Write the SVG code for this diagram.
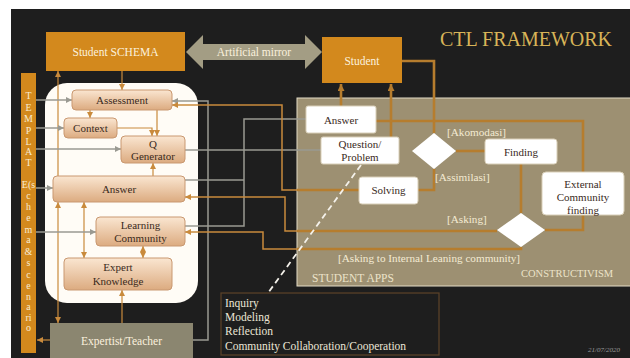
<svg xmlns="http://www.w3.org/2000/svg" width="630" height="358" viewBox="0 0 630 358">
  <defs>
    <linearGradient id="nodeFill" x1="0" y1="0" x2="0" y2="1">
      <stop offset="0" stop-color="#fae6d1"/>
      <stop offset="1" stop-color="#dcab80"/>
    </linearGradient>
    <marker id="arrO" viewBox="0 0 6 6" refX="6" refY="3" markerWidth="6" markerHeight="6" markerUnits="userSpaceOnUse" orient="auto-start-reverse">
      <path d="M0,0 L6,3 L0,6 z" fill="#c98a3c"/>
    </marker>
    <marker id="arrG" viewBox="0 0 6 6" refX="6" refY="3" markerWidth="6" markerHeight="6" markerUnits="userSpaceOnUse" orient="auto-start-reverse">
      <path d="M0,0 L6,3 L0,6 z" fill="#9a9a92"/>
    </marker>
    <marker id="arrB" viewBox="0 0 6 6" refX="6" refY="3" markerWidth="7" markerHeight="7" markerUnits="userSpaceOnUse" orient="auto-start-reverse">
      <path d="M0,0 L6,3 L0,6 z" fill="#b67d2e"/>
    </marker>
  </defs>
  <style>
    text { font-family: "Liberation Serif", "Times New Roman", serif; }
    .orange { fill: #d3891d; }
    .node { fill: url(#nodeFill); stroke: #c99870; stroke-width: 1; }
    .wbox { fill: #ffffff; stroke: #d9cfb8; stroke-width: 1; }
    .dia { fill: #ffffff; }
    .lt { fill: #fbf1de; font-size: 11.5px; text-anchor: middle; }
    .dk { fill: #3a2a1c; font-size: 11px; text-anchor: middle; }
    .lbl { fill: #f4ebd2; font-size: 11.2px; }
    .tpl { fill: #f7e9cf; font-size: 10px; text-anchor: middle; }
    .ci { fill: none; stroke: #c98a3c; stroke-width: 1.2; }
    .co { fill: none; stroke: #c98a3c; stroke-width: 1.5; }
    .cg { fill: none; stroke: #9a9a92; stroke-width: 1.5; }
    .cb { fill: none; stroke: #b67d2e; stroke-width: 2.6; }
  </style>

  <!-- page -->
  <rect x="0" y="0" width="630" height="358" fill="#ffffff"/>
  <rect x="11" y="9" width="619" height="349" fill="#1e1e1e"/>

  <!-- panels -->
  <rect x="45" y="83" width="153" height="220" rx="22" fill="#fffcf6"/>
  <rect x="297" y="98" width="340" height="188" fill="#9d9072" stroke="#e4dcc6" stroke-width="1"/>
  <rect x="221" y="293" width="218" height="62" fill="none" stroke="#5e4329" stroke-width="1.2"/>

  <!-- connectors -->
  <g id="connectors">
    <!-- inside the knowledge panel -->
    <path class="ci" d="M122,71 V90" marker-end="url(#arrO)"/>
    <path class="ci" d="M58,176 V71" marker-end="url(#arrO)"/>
    <path class="ci" d="M58,202 V323" marker-start="url(#arrO)" marker-end="url(#arrO)"/>
    <path class="ci" d="M90,110 V118" marker-end="url(#arrO)"/>
    <path class="ci" d="M157,110 V136" marker-end="url(#arrO)"/>
    <path class="ci" d="M117,128 H152 V136" marker-end="url(#arrO)"/>
    <path class="ci" d="M153,176 V163" marker-end="url(#arrO)"/>
    <path class="ci" d="M84,202 V258" marker-start="url(#arrO)" marker-end="url(#arrO)"/>
    <path class="ci" d="M143,246 V258" marker-start="url(#arrO)" marker-end="url(#arrO)"/>
    <path class="ci" d="M122,323 V290" marker-end="url(#arrO)"/>
    <path class="ci" d="M50,340 H37" marker-end="url(#arrO)"/>

    <!-- template feeds -->
    <path class="cg" d="M36,100 H72" marker-end="url(#arrG)"/>
    <path class="cg" d="M36,128 H64" marker-end="url(#arrG)"/>
    <path class="cg" d="M36,149 H121" marker-end="url(#arrG)"/>
    <path class="cg" d="M36,188 H53" marker-end="url(#arrG)"/>
    <path class="cg" d="M36,232 H96" marker-end="url(#arrG)"/>

    <!-- between the panels -->
    <path class="cg" d="M193,340 H208 V101 H172" marker-end="url(#arrG)"/>
    <path class="cg" d="M185,226 H244 V119 H306"/>
    <path class="cg" d="M185,180 H244"/>
    <path class="cg" d="M185,150 H321"/>
    <path class="co" d="M297,190 H282 V105 H172" marker-end="url(#arrO)"/>
    <path class="co" d="M297,231 H285 V197 H185" marker-end="url(#arrO)"/>
    <path class="co" d="M297,249 H263 V232 H185" marker-end="url(#arrO)"/>

    <!-- student apps -->
    <path class="cb" d="M359,190 H297"/>
    <path class="cb" d="M497,231 H297"/>
    <path class="cb" d="M521,247 V249 H297"/>
    <path class="cb" d="M402,61 H434 V133"/>
    <path class="cb" d="M456,151 H485"/>
    <path class="cb" d="M434,169 V190 H418"/>
    <path class="cb" d="M341,106 V84" marker-end="url(#arrB)"/>
    <path class="cb" d="M391,137 V84" marker-end="url(#arrB)"/>
    <path class="cb" d="M376,121 H583 V172"/>
    <path class="cb" d="M521,164 V213"/>
    <path class="cb" d="M583,215 V230 H545"/>

    <!-- link to the practice list -->
    <path d="M361,165 L268,293" fill="none" stroke="#f4f1ea" stroke-width="1.8" stroke-dasharray="6 4"/>
  </g>

  <!-- header nodes -->
  <g id="student-schema">
    <rect class="orange" x="46" y="32" width="139" height="39"/>
    <text class="lt" x="115.5" y="56">Student SCHEMA</text>
  </g>
  <g id="artificial-mirror">
    <path d="M186,52 L203,35 V44 H305 V35 L322,52 L305,69 V60 H203 V69 z" fill="#a39d84"/>
    <text class="lt" x="254" y="56">Artificial mirror</text>
  </g>
  <g id="student">
    <rect class="orange" x="322" y="37" width="80" height="46"/>
    <text class="lt" x="362" y="65">Student</text>
  </g>
  <text x="440" y="46" fill="#d8b458" font-size="20px">CTL FRAMEWORK</text>

  <!-- template bar -->
  <g id="template">
    <rect class="orange" x="21" y="73" width="15" height="280"/>
    <text class="tpl" x="28.5" y="99">T</text>
    <text class="tpl" x="28.5" y="111">E</text>
    <text class="tpl" x="28.5" y="122">M</text>
    <text class="tpl" x="28.5" y="134">P</text>
    <text class="tpl" x="28.5" y="145">L</text>
    <text class="tpl" x="28.5" y="155">A</text>
    <text class="tpl" x="28.5" y="166">T</text>
    <text class="tpl" x="28.5" y="188">E(s</text>
    <text class="tpl" x="28.5" y="199">c</text>
    <text class="tpl" x="28.5" y="210">h</text>
    <text class="tpl" x="28.5" y="221">e</text>
    <text class="tpl" x="28.5" y="233">m</text>
    <text class="tpl" x="28.5" y="243">a</text>
    <text class="tpl" x="28.5" y="255">&amp;</text>
    <text class="tpl" x="28.5" y="266">s</text>
    <text class="tpl" x="28.5" y="278">c</text>
    <text class="tpl" x="28.5" y="289">e</text>
    <text class="tpl" x="28.5" y="300">n</text>
    <text class="tpl" x="28.5" y="310">a</text>
    <text class="tpl" x="28.5" y="321">ri</text>
    <text class="tpl" x="28.5" y="331">o</text>
  </g>

  <!-- knowledge nodes -->
  <g id="assessment">
    <rect class="node" x="72" y="90" width="100" height="20" rx="4"/>
    <text class="dk" x="122" y="104">Assessment</text>
  </g>
  <g id="context">
    <rect class="node" x="64" y="118" width="53" height="20" rx="4"/>
    <text class="dk" x="90.5" y="132">Context</text>
  </g>
  <g id="q-generator">
    <rect class="node" x="121" y="136" width="64" height="27" rx="4"/>
    <text class="dk" x="153" y="148">Q</text>
    <text class="dk" x="153" y="160">Generator</text>
  </g>
  <g id="answer-node">
    <rect class="node" x="53" y="176" width="132" height="26" rx="4"/>
    <text class="dk" x="119" y="193">Answer</text>
  </g>
  <g id="learning-community">
    <rect class="node" x="96" y="217" width="89" height="29" rx="4"/>
    <text class="dk" x="140.5" y="229">Learning</text>
    <text class="dk" x="140.5" y="242">Community</text>
  </g>
  <g id="expert-knowledge">
    <rect class="node" x="64" y="258" width="108" height="32" rx="4"/>
    <text class="dk" x="118" y="271">Expert</text>
    <text class="dk" x="118" y="285">Knowledge</text>
  </g>
  <g id="expertist-teacher">
    <rect x="50" y="323" width="143" height="35" fill="#8b8670"/>
    <text class="lt" x="121.5" y="345">Expertist/Teacher</text>
  </g>

  <!-- student apps nodes -->
  <g id="answer-app">
    <rect class="wbox" x="306" y="106" width="70" height="27" rx="2"/>
    <text class="dk" x="341" y="124">Answer</text>
  </g>
  <g id="question-problem">
    <rect class="wbox" x="321" y="137" width="78" height="27" rx="2"/>
    <text class="dk" x="360" y="148">Question/</text>
    <text class="dk" x="360" y="161">Problem</text>
  </g>
  <g id="solving">
    <rect class="wbox" x="359" y="177" width="59" height="27" rx="3"/>
    <text class="dk" x="388.5" y="194">Solving</text>
  </g>
  <g id="decision-1">
    <path class="dia" d="M434,133 L456,151 L434,169 L412,151 z"/>
  </g>
  <g id="finding">
    <rect class="wbox" x="485" y="139" width="72" height="25" rx="3"/>
    <text class="dk" x="521" y="156">Finding</text>
  </g>
  <g id="external-community">
    <rect class="wbox" x="542" y="172" width="82" height="43" rx="4"/>
    <text class="dk" x="583" y="188">External</text>
    <text class="dk" x="583" y="201">Community</text>
    <text class="dk" x="583" y="214">finding</text>
  </g>
  <g id="decision-2">
    <path class="dia" d="M521,213 L545,230 L521,247 L497,230 z"/>
  </g>

  <!-- flow labels -->
  <text class="lbl" x="447" y="136">[Akomodasi]</text>
  <text class="lbl" x="435" y="181">[Assimilasi]</text>
  <text class="lbl" x="447" y="223">[Asking]</text>
  <text class="lbl" x="338" y="262" font-size="11.5px">[Asking to Internal Leaning community]</text>
  <text x="312" y="282" fill="#ece3c9" font-size="11.5px">STUDENT APPS</text>
  <text x="521" y="277" fill="#ece3c9" font-size="10.5px">CONSTRUCTIVISM</text>

  <!-- practice list -->
  <g id="practices" fill="#ece6d6" font-size="11.5px">
    <text x="225" y="307">Inquiry</text>
    <text x="225" y="321">Modeling</text>
    <text x="225" y="335">Reflection</text>
    <text x="225" y="350">Community Collaboration/Cooperation</text>
  </g>

  <text x="588" y="352" fill="#9a9a9a" font-size="7px" font-style="italic">21/07/2020</text>
</svg>
